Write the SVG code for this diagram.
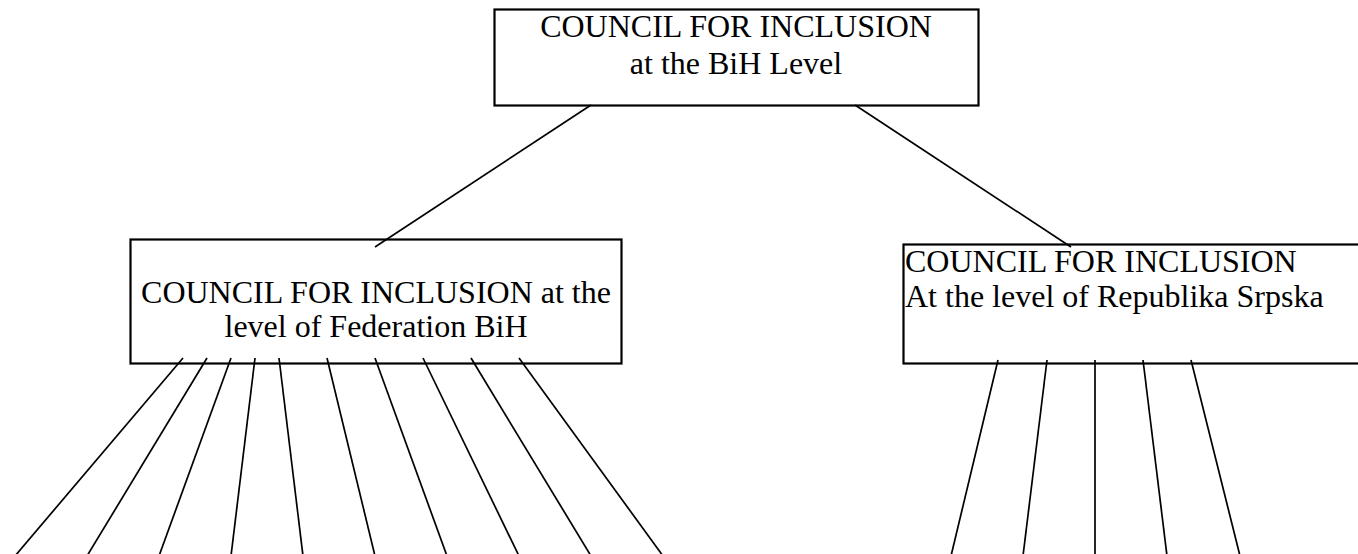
<svg xmlns="http://www.w3.org/2000/svg" width="1358" height="554" viewBox="0 0 1358 554">
<style>
.box{fill:#fff;stroke:#000;stroke-width:2.2}
.lbl{font-family:"Liberation Serif","Times New Roman",serif;font-size:32px;fill:#000}
.c{text-anchor:middle}
.conn line{stroke:#000;stroke-width:1.7}
</style>
<rect width="1358" height="554" fill="#fff"/>
<g id="node-bih">
<rect class="box" x="494.5" y="9.5" width="484" height="96"/>
<text class="lbl c" x="736" y="37">COUNCIL FOR INCLUSION</text>
<text class="lbl c" x="736" y="74">at the BiH Level</text>
</g>
<g id="node-fbih">
<rect class="box" x="130.5" y="239.5" width="491" height="124"/>
<text class="lbl c" x="376" y="303">COUNCIL FOR INCLUSION at the</text>
<text class="lbl c" x="376" y="337">level of Federation BiH</text>
</g>
<g id="node-rs">
<rect class="box" x="903.5" y="244.5" width="470" height="119"/>
<text class="lbl" x="905" y="272">COUNCIL FOR INCLUSION</text>
<text class="lbl" x="905" y="307">At the level of Republika Srpska</text>
</g>
<g id="connectors" class="conn">
<line x1="591" y1="105" x2="375" y2="247"/>
<line x1="855" y1="105" x2="1071" y2="247"/>
<line x1="183" y1="358" x2="15" y2="556"/>
<line x1="207" y1="358" x2="87" y2="556"/>
<line x1="231" y1="358" x2="159" y2="556"/>
<line x1="255" y1="358" x2="231" y2="556"/>
<line x1="279" y1="358" x2="303" y2="556"/>
<line x1="327" y1="358" x2="375" y2="556"/>
<line x1="375" y1="358" x2="447" y2="556"/>
<line x1="423" y1="358" x2="519" y2="556"/>
<line x1="471" y1="358" x2="591" y2="556"/>
<line x1="519" y1="358" x2="663" y2="556"/>
<line x1="998" y1="360" x2="951" y2="556"/>
<line x1="1047" y1="360" x2="1023" y2="556"/>
<line x1="1095" y1="360" x2="1095" y2="556"/>
<line x1="1143" y1="360" x2="1167" y2="556"/>
<line x1="1191" y1="360" x2="1240" y2="556"/>
</g>
</svg>
